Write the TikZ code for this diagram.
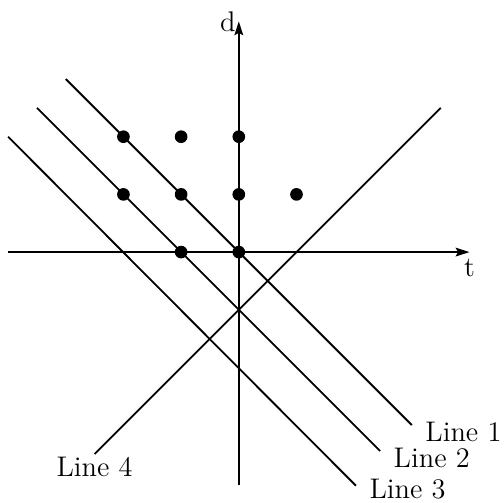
\documentclass[tikz,border=0pt]{standalone}
\usetikzlibrary{arrows.meta}

\tikzstyle{every node}=[inner sep=0pt, font=\fontsize{14}{16}\selectfont]
\tikzstyle{dot}=[circle, fill=black, minimum size=2.2mm]
\tikzstyle{axis}=[line width=0.9pt, -{Stealth[length=2.4mm, width=1.5mm, inset=0.4mm]}]
\tikzstyle{border}=[line width=0.9pt]
\tikzstyle{linetext}=[anchor=west, xshift=2.2mm, yshift=-1.2mm]

\begin{document}
\begin{tikzpicture}
    \useasboundingbox (-4.14,-4.35) rectangle (4.58,4.37);
    \coordinate (tl) at (-4,0);
    \coordinate (tr) at (4,0);
    \coordinate (db) at (0,-4.04);
    \coordinate (dt) at (0,4);
    \draw [axis] (tl) -- (tr) node [anchor=north, yshift=-1.1mm] {t};
    \draw [axis] (db) -- (dt) node [anchor=south east, xshift=-0.4mm, yshift=-2mm] {d};
    \coordinate (a1) at (-3,3);
    \coordinate (b1) at (3,-3);
    \coordinate (a2) at (-3.5,2.5);
    \coordinate (b2) at (2.45,-3.45);
    \coordinate (a3) at (-4,2);
    \coordinate (b3) at (2.03,-4.05);
    \coordinate (a4) at (-2.5,-3.5);
    \coordinate (b4) at (3.5,2.5);
    \draw [border] (a1) -- (b1) node [linetext] {Line 1};
    \draw [border] (a2) -- (b2) node [linetext] {Line 2};
    \draw [border] (a3) -- (b3) node [linetext, yshift=0.6mm] {Line 3};
    \draw [border] (b4) -- (a4) node [anchor=north, yshift=-0.3mm] {Line 4};
    \foreach \t/\d [count=\i] in {-2/2, -1/2, 0/2, -2/1, -1/1, 0/1, 1/1, -1/0, 0/0}
        \node [dot] (p\i) at (\t,\d) {};
\end{tikzpicture}
\end{document}
